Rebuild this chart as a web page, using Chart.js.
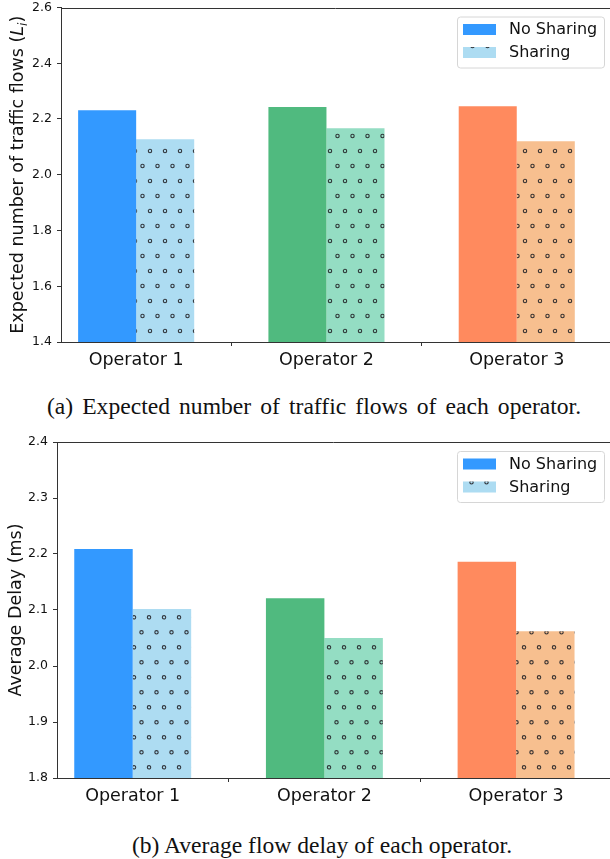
<!DOCTYPE html>
<html>
<head>
<meta charset="utf-8">
<script src="https://cdn.jsdelivr.net/npm/chart.js@4.4.0/dist/chart.umd.min.js"></script>
<style>
  html, body { margin: 0; padding: 0; background: #ffffff; }
  body { width: 610px; height: 859px; position: relative; overflow: hidden; }
  .panel { position: absolute; left: 0; width: 610px; }
  #flowsPanel { top: -5px; height: 385px; }
  #delayPanel { top: 420px; height: 400px; }
  .caption {
    position: absolute; width: 610px; text-align: center; white-space: nowrap;
    font-family: "Liberation Serif", "Times New Roman", serif;
    font-size: 23.6px; line-height: 28px; color: #111111;
  }
  #captionA { top: 392px; left: 9px; word-spacing: 3.2px; }
  #captionB { top: 831px; left: 17px; }
</style>
</head>
<body>
<div class="panel" id="flowsPanel"><canvas id="flowsChart" width="610" height="385"></canvas></div>
<div class="caption" id="captionA">(a) Expected number of traffic flows of each operator.</div>
<div class="panel" id="delayPanel"><canvas id="delayChart" width="610" height="400"></canvas></div>
<div class="caption" id="captionB">(b) Average flow delay of each operator.</div>

<script>
// ---- data ----
const categories = ['Operator 1', 'Operator 2', 'Operator 3'];
const seriesNames = ['No Sharing', 'Sharing'];

const flowsNoSharing = [2.231, 2.243, 2.246];
const flowsSharing   = [2.127, 2.167, 2.120];
const flowTicks      = [1.4, 1.6, 1.8, 2.0, 2.2, 2.4, 2.6];

const delayNoSharing = [2.209, 2.121, 2.186];
const delaySharing   = [2.102, 2.050, 2.062];
const delayTicks     = [1.8, 1.9, 2.0, 2.1, 2.2, 2.3, 2.4];

const solidColors = ['#3399ff', '#50ba7f', '#ff8a5e'];
const lightColors = ['#addcf2', '#94ddc3', '#f7bf8f'];

const flowsTitleParts = [
  { text: 'Expected number of traffic flows (' },
  { text: 'L', italic: true },
  { text: 'i', italic: true, sub: true },
  { text: ')' }
];
const delayTitleParts = [{ text: 'Average Delay (ms)' }];

// ---- styling helpers ----
Chart.defaults.font.family = '"DejaVu Sans", sans-serif';
Chart.defaults.color = '#111111';

// circle hatch ('o'): staggered rows of small hollow rings over the face colour
function ringHatch(face, phaseX, phaseY) {
  const w = 15, h = 30;
  const tile = document.createElement('canvas');
  tile.width = w; tile.height = h;
  const c = tile.getContext('2d');
  c.fillStyle = face;
  c.fillRect(0, 0, w, h);
  c.strokeStyle = 'rgba(35,35,40,0.9)';
  c.lineWidth = 1.1;
  const centres = [[phaseX, phaseY], [phaseX + 7.5, phaseY + 15]];
  for (const [cx, cy] of centres) {
    for (const dx of [-2 * w, -w, 0, w, 2 * w]) {
      for (const dy of [-h, 0, h]) {
        c.beginPath();
        c.arc(((cx % w) + dx), ((cy % h) + dy), 1.7, 0, Math.PI * 2);
        c.stroke();
      }
    }
  }
  return c.createPattern(tile, 'repeat');
}

const legendBox = {
  id: 'legendBox',
  afterDraw(chart) {
    const { ctx, chartArea } = chart;
    const w = 147, h = 51;
    const x = chartArea.right - 6 - w;
    const y = chartArea.top + 9;
    ctx.save();
    ctx.beginPath();
    ctx.roundRect(x + 0.5, y + 0.5, w, h, 3);
    ctx.fillStyle = 'rgba(255,255,255,0.85)';
    ctx.fill();
    ctx.strokeStyle = '#d6d6d6';
    ctx.lineWidth = 1;
    ctx.stroke();
    chart.data.datasets.forEach((ds, i) => {
      const cy = y + 13 + i * 23;
      const bg = Array.isArray(ds.backgroundColor) ? ds.backgroundColor[0] : ds.backgroundColor;
      ctx.fillStyle = bg;
      ctx.fillRect(x + 6, cy - 5.5, 33, 11);
      ctx.fillStyle = '#111111';
      ctx.font = '16px "DejaVu Sans"';
      ctx.textBaseline = 'middle';
      ctx.textAlign = 'left';
      ctx.fillText(ds.label, x + 52, cy + 0.5);
    });
    ctx.restore();
  }
};

// top spine plus a rotated, partly italic y-axis title
const frameAndTitle = {
  id: 'frameAndTitle',
  afterDraw(chart, args, opts) {
    const { ctx, chartArea } = chart;
    ctx.save();
    ctx.strokeStyle = '#333333';
    ctx.lineWidth = 1;
    ctx.beginPath();
    ctx.moveTo(chartArea.left, Math.round(chartArea.top) + 0.5);
    ctx.lineTo(chartArea.right, Math.round(chartArea.top) + 0.5);
    ctx.stroke();

    const size = 17.5;
    const fontFor = p => (p.italic ? 'italic ' : '') + (p.sub ? size * 0.7 : size) + 'px "DejaVu Sans"';
    let total = 0;
    for (const p of opts.parts) { ctx.font = fontFor(p); total += ctx.measureText(p.text).width; }
    const cy = (chartArea.top + chartArea.bottom) / 2;
    ctx.translate(opts.baselineX, cy);
    ctx.rotate(-Math.PI / 2);
    ctx.fillStyle = '#111111';
    ctx.textBaseline = 'alphabetic';
    ctx.textAlign = 'left';
    let x = -total / 2;
    for (const p of opts.parts) {
      ctx.font = fontFor(p);
      ctx.fillText(p.text, x, p.sub ? 4 : 0);
      x += ctx.measureText(p.text).width;
    }
    ctx.restore();
  }
};

function buildChart(canvasId, noShare, share, ticks, yWidth, xHeight, padTop, hatchPhase, titleParts, titleX) {
  const canvas = document.getElementById(canvasId);
  const toPoints = vals => vals.map((v, i) => ({ x: i, y: v }));
  const axisLine = { display: true, color: '#333333', width: 1 };
  const tickMarks = { display: true, drawOnChartArea: false, drawTicks: true, tickLength: 4, tickColor: '#333333' };
  return new Chart(canvas, {
    type: 'bar',
    data: {
      datasets: [
        {
          label: seriesNames[0],
          data: toPoints(noShare),
          backgroundColor: solidColors,
          borderWidth: 0
        },
        {
          label: seriesNames[1],
          data: toPoints(share),
          backgroundColor: lightColors.map(c => ringHatch(c, hatchPhase[0], hatchPhase[1])),
          borderWidth: 0
        }
      ]
    },
    options: {
      responsive: false,
      animation: false,
      layout: { padding: { top: padTop, right: 0, left: 0, bottom: 0 } },
      datasets: { bar: { categoryPercentage: 0.61, barPercentage: 1.0, grouped: true } },
      plugins: {
        legend: { display: false },
        tooltip: { enabled: false },
        frameAndTitle: { parts: titleParts, baselineX: titleX }
      },
      scales: {
        x: {
          type: 'linear',
          min: -0.395,
          max: 2.49,
          offset: false,
          grid: tickMarks,
          border: axisLine,
          afterBuildTicks: s => { s.ticks = categories.map((_, i) => ({ value: i })); },
          afterFit: s => { s.height = xHeight; },
          ticks: {
            padding: 4,
            font: { size: 17.5 },
            color: '#111111',
            maxRotation: 0,
            callback: v => categories[v]
          }
        },
        y: {
          type: 'linear',
          min: ticks[0],
          max: ticks[ticks.length - 1],
          grid: tickMarks,
          border: axisLine,
          afterBuildTicks: s => { s.ticks = ticks.map(v => ({ value: v })); },
          afterFit: s => { s.width = yWidth; },
          ticks: {
            padding: 5,
            font: { size: 12.5 },
            color: '#111111',
            callback: v => Number(v).toFixed(1)
          }
        }
      }
    },
    plugins: [legendBox, frameAndTitle]
  });
}

buildChart('flowsChart', flowsNoSharing, flowsSharing, flowTicks, 61, 38, 12, [0, 6], flowsTitleParts, 23);
buildChart('delayChart', delayNoSharing, delaySharing, delayTicks, 57, 42, 22, [14, 17.3], delayTitleParts, 21);
</script>
</body>
</html>
